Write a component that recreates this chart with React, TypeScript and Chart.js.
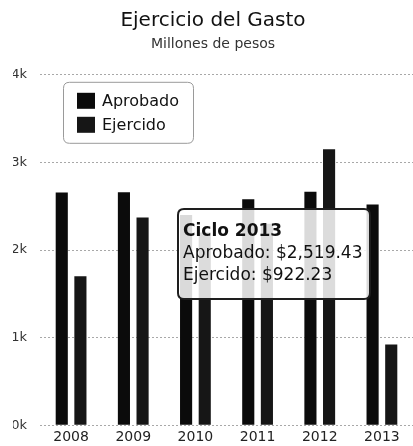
import React, { useEffect, useRef } from 'react';
import { Chart, registerables } from 'chart.js';

Chart.register(...registerables);

const years = ['2008', '2009', '2010', '2011', '2012', '2013'];
const aprobado = [2655, 2660, 2400, 2580, 2665, 2519.43];
const ejercido = [1700, 2370, 2200, 2300, 3150, 922.23];
const seriesNames = ['Aprobado', 'Ejercido'];
const seriesColors = ['#0b0b0b', '#161616'];
const yMax = 4000;
const yStep = 1000;
const tooltipIndex = 5;

const FONT = '"DejaVu Sans", sans-serif';

function roundRect(ctx: CanvasRenderingContext2D, x: number, y: number, w: number, h: number, r: number) {
  ctx.beginPath();
  ctx.moveTo(x + r, y);
  ctx.lineTo(x + w - r, y);
  ctx.quadraticCurveTo(x + w, y, x + w, y + r);
  ctx.lineTo(x + w, y + h - r);
  ctx.quadraticCurveTo(x + w, y + h, x + w - r, y + h);
  ctx.lineTo(x + r, y + h);
  ctx.quadraticCurveTo(x, y + h, x, y + h - r);
  ctx.lineTo(x, y + r);
  ctx.quadraticCurveTo(x, y, x + r, y);
  ctx.closePath();
}

const fmt = (v: number) => '$' + v.toLocaleString('en-US', { minimumFractionDigits: 2, maximumFractionDigits: 2 });

const overlayPlugin = {
  id: 'overlay',
  afterDraw(chart: any) {
    const ctx: CanvasRenderingContext2D = chart.ctx;
    const area = chart.chartArea;
    ctx.save();
    // Legend box
    const lx = area.left + 23.5;
    const ly = area.top + 7.5;
    roundRect(ctx, lx, ly, 130, 61, 6);
    ctx.fillStyle = 'rgba(255,255,255,0.95)';
    ctx.fill();
    ctx.strokeStyle = '#9a9a9a';
    ctx.lineWidth = 1;
    ctx.stroke();
    ctx.font = '16px ' + FONT;
    ctx.textBaseline = 'middle';
    ctx.textAlign = 'left';
    seriesNames.forEach((name, i) => {
      const cy = ly + 18.5 + i * 24;
      ctx.fillStyle = seriesColors[i];
      ctx.fillRect(lx + 13.5, cy - 8, 18, 16);
      ctx.fillStyle = '#111';
      ctx.fillText(name, lx + 38.5, cy + 1);
    });

    // Tooltip
    const tx = 178;
    const ty = 209;
    roundRect(ctx, tx, ty, 192, 90, 6);
    ctx.fillStyle = 'rgba(255,255,255,0.85)';
    ctx.fill();
    ctx.strokeStyle = '#1e1e1e';
    ctx.lineWidth = 2;
    ctx.stroke();
    ctx.textBaseline = 'alphabetic';
    ctx.fillStyle = '#111';
    ctx.font = 'bold 17px ' + FONT;
    ctx.fillText('Ciclo ' + years[tooltipIndex], tx + 5, ty + 27);
    ctx.font = '17px ' + FONT;
    ctx.fillText(seriesNames[0] + ': ' + fmt(aprobado[tooltipIndex]), tx + 5, ty + 49);
    ctx.fillText(seriesNames[1] + ': ' + fmt(ejercido[tooltipIndex]), tx + 5, ty + 71);
    ctx.restore();
  },
};

export default function App() {
  const canvasRef = useRef<HTMLCanvasElement | null>(null);

  useEffect(() => {
    document.body.style.margin = '0';
    const canvas = canvasRef.current;
    if (!canvas) return;
    const chart = new Chart(canvas, {
      type: 'bar',
      data: {
        labels: years,
        datasets: [
          {
            label: seriesNames[0],
            data: aprobado,
            backgroundColor: seriesColors[0],
            categoryPercentage: 0.6,
            barPercentage: 0.65,
          },
          {
            label: seriesNames[1],
            data: ejercido,
            backgroundColor: seriesColors[1],
            categoryPercentage: 0.6,
            barPercentage: 0.65,
          },
        ],
      },
      options: {
        responsive: false,
        animation: false,
        layout: { padding: { left: 13, right: 0, top: 0, bottom: 0 } },
        plugins: {
          legend: { display: false },
          tooltip: { enabled: false },
          title: {
            display: true,
            text: 'Ejercicio del Gasto',
            color: '#111',
            font: { family: FONT, size: 20, weight: 'normal' },
            padding: { top: 9, bottom: 0 },
          },
          subtitle: {
            display: true,
            text: 'Millones de pesos',
            color: '#333',
            font: { family: FONT, size: 14, weight: 'normal' },
            padding: { top: 3, bottom: 22 },
          },
        },
        scales: {
          x: {
            grid: { display: false, drawTicks: false },
            border: { display: false },
            ticks: { color: '#222', font: { family: FONT, size: 14 }, padding: 4, maxRotation: 0 },
            afterFit: (scale: any) => {
              scale.height = 19;
            },
          },
          y: {
            min: 0,
            max: yMax,
            ticks: {
              stepSize: yStep,
              color: '#333',
              padding: 13,
              font: { family: FONT, size: 13 },
              callback: (v: any) => Number(v) / 1000 + 'k',
            },
            grid: { color: '#a8a8a8', drawTicks: false },
            border: { display: false, dash: [2, 2] },
            afterFit: (scale: any) => {
              scale.width = 27;
            },
          },
        },
      },
      plugins: [overlayPlugin],
    });
    return () => chart.destroy();
  }, []);

  return (
    <div style={{ width: 413, height: 446 }}>
      <canvas ref={canvasRef} width={413} height={446} />
    </div>
  );
}
